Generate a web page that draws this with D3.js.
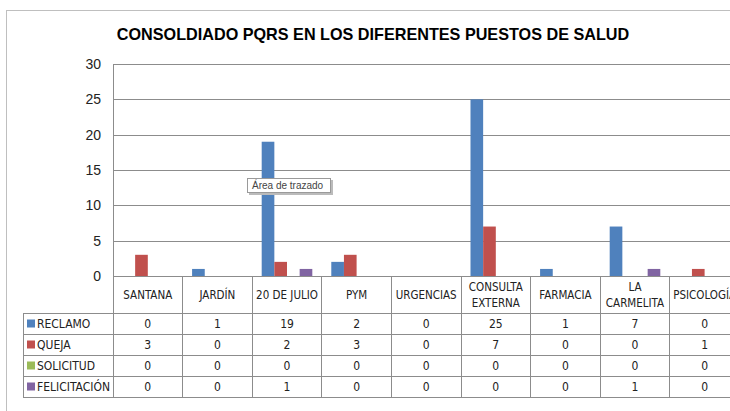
<!DOCTYPE html>
<html lang="es">
<head>
<meta charset="UTF-8">
<title>Consolidado PQRS</title>
<script src="https://d3js.org/d3.v7.min.js"></script>
<style>
  body { margin: 0; background: #fff; }
  svg { display: block; font-family: "Liberation Sans", Arial, sans-serif; }
  .tbl { font-family: "Liberation Sans Narrow", "DejaVu Sans Condensed", "Liberation Sans", sans-serif; }
</style>
</head>
<body>
<svg id="chart" width="730" height="411"></svg>
<script>
// data
const categories = ["SANTANA", "JARDÍN", "20 DE JULIO", "PYM", "URGENCIAS", "CONSULTA EXTERNA", "FARMACIA", "LA CARMELITA", "PSICOLOGÍA"];
const catLabels = [["SANTANA"], ["JARDÍN"], ["20 DE JULIO"], ["PYM"], ["URGENCIAS"], ["CONSULTA", "EXTERNA"], ["FARMACIA"], ["LA", "CARMELITA"], ["PSICOLOGÍA"]];
const seriesNames = ["RECLAMO", "QUEJA", "SOLICITUD", "FELICITACIÓN"];
const reclamo      = [0, 1, 19, 2, 0, 25, 1, 7, 0];
const queja        = [3, 0, 2, 3, 0, 7, 0, 0, 1];
const solicitud    = [0, 0, 0, 0, 0, 0, 0, 0, 0];
const felicitacion = [0, 0, 1, 0, 0, 0, 0, 1, 0];
const yTicks = [0, 5, 10, 15, 20, 25, 30];

const seriesValues = [reclamo, queja, solicitud, felicitacion];
const colors = ["#4F81BD", "#C0504D", "#9BBB59", "#8064A2"];

const svg = d3.select("#chart");

// chart frame (cut off on the right and bottom like the screenshot)
svg.append("rect")
   .attr("x", 6.5).attr("y", 10.5)
   .attr("width", 760).attr("height", 420)
   .attr("fill", "#fff").attr("stroke", "#bfbfbf");

svg.append("text")
   .attr("x", 373).attr("y", 40)
   .attr("text-anchor", "middle")
   .attr("font-size", "16.2px").attr("font-weight", "bold")
   .attr("fill", "#000")
   .text("CONSOLDIADO PQRS EN LOS DIFERENTES PUESTOS DE SALUD");

const left = 113, catW = 69.6;
const x = d3.scaleBand().domain(categories).range([left, left + catW * categories.length]);
const xs = d3.scaleBand().domain(seriesNames).range([0, x.bandwidth()]).paddingOuter(0.75);
const y = d3.scaleLinear().domain([0, 30]).range([276, 64]);

// gridlines
svg.append("g").selectAll("line").data(yTicks).join("line")
   .attr("x1", left).attr("x2", 730)
   .attr("y1", d => Math.round(y(d)) + 0.5).attr("y2", d => Math.round(y(d)) + 0.5)
   .attr("stroke", "#8c8c8c");

svg.append("line")
   .attr("x1", left + 0.5).attr("x2", left + 0.5)
   .attr("y1", y(30)).attr("y2", y(0))
   .attr("stroke", "#8c8c8c");

svg.append("g").selectAll("text").data(yTicks).join("text")
   .attr("x", 101).attr("y", d => y(d) + 5)
   .attr("text-anchor", "end")
   .attr("font-size", "14px").attr("fill", "#222")
   .text(d => d);

// bars
const barData = [];
categories.forEach((c, i) => seriesNames.forEach((s, j) => barData.push({ c, s, j, v: seriesValues[j][i] })));
svg.append("g").selectAll("rect").data(barData.filter(d => d.v > 0)).join("rect")
   .attr("x", d => x(d.c) + xs(d.s))
   .attr("y", d => y(d.v))
   .attr("width", xs.bandwidth())
   .attr("height", d => y(0) - y(d.v))
   .attr("fill", d => colors[d.j]);

// data table
const rowTop = 313, rowH = 21, tableBottom = rowTop + rowH * seriesNames.length;
const grid = svg.append("g").attr("stroke", "#8c8c8c").attr("shape-rendering", "crispEdges");
x.domain().forEach(c => {
  grid.append("line").attr("x1", x(c) + x.bandwidth()).attr("x2", x(c) + x.bandwidth())
      .attr("y1", y(0)).attr("y2", tableBottom);
});
grid.append("line").attr("x1", left).attr("x2", left).attr("y1", y(0)).attr("y2", tableBottom);
grid.append("line").attr("x1", 23).attr("x2", 23).attr("y1", rowTop).attr("y2", tableBottom);
d3.range(seriesNames.length + 1).forEach(k => {
  grid.append("line").attr("x1", 23).attr("x2", 730)
      .attr("y1", rowTop + k * rowH).attr("y2", rowTop + k * rowH);
});

const tbl = svg.append("g").attr("class", "tbl").attr("fill", "#222").attr("font-size", "12px");

// category header
catLabels.forEach((lines, i) => {
  const cx = x(categories[i]) + x.bandwidth() / 2;
  const t = tbl.append("text").attr("text-anchor", "middle").attr("font-size", "11.5px");
  const y0 = lines.length === 1 ? 299 : 291;
  lines.forEach((ln, k) => t.append("tspan").attr("x", cx).attr("y", y0 + k * 16).text(ln));
});

// series rows
seriesNames.forEach((s, j) => {
  const cy = rowTop + j * rowH + rowH / 2;
  tbl.append("rect").attr("x", 27).attr("y", cy - 4).attr("width", 8).attr("height", 8)
     .attr("fill", colors[j]);
  tbl.append("text").attr("x", 37).attr("y", cy + 4.5).text(s);
  categories.forEach((c, i) => {
    tbl.append("text").attr("x", x(c) + x.bandwidth() / 2).attr("y", cy + 4.5)
       .attr("text-anchor", "middle")
       .text(seriesValues[j][i]);
  });
});

// hover tooltip captured in the screenshot
const tip = svg.append("g").attr("transform", "translate(247,178)");
tip.append("rect").attr("x", 2).attr("y", 2).attr("width", 84).attr("height", 15).attr("fill", "#bbb");
tip.append("rect").attr("x", 0.5).attr("y", 0.5).attr("width", 83).attr("height", 14)
   .attr("fill", "#fff").attr("stroke", "#9a9a9a");
tip.append("text").attr("x", 5).attr("y", 11).attr("font-size", "10px").attr("fill", "#444")
   .text("Área de trazado");
</script>
</body>
</html>
